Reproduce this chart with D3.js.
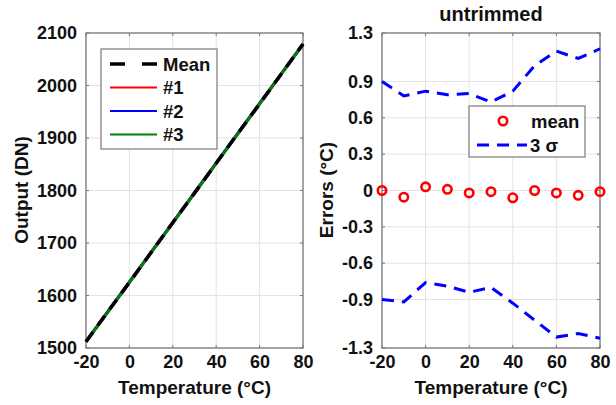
<!DOCTYPE html>
<html>
<head>
<meta charset="utf-8">
<script src="https://cdn.jsdelivr.net/npm/d3@7"></script>
<style>
  body { margin: 0; background: #fff; }
  text { font-family: "Liberation Sans", Arial, sans-serif; font-weight: bold; }
</style>
</head>
<body>
<svg width="616" height="405"></svg>
<script>
const svg = d3.select("svg");

// data
const temps = [-20, -10, 0, 10, 20, 30, 40, 50, 60, 70, 80];
const outMean = [1512, 1569, 1625, 1682, 1739, 1795, 1852, 1909, 1965, 2022, 2079];
const out1 = [1512, 1569, 1625, 1682, 1739, 1795, 1852, 1909, 1965, 2022, 2079];
const out2 = [1512, 1569, 1626, 1682, 1739, 1796, 1852, 1909, 1966, 2022, 2079];
const out3 = [1512, 1568, 1625, 1682, 1738, 1795, 1852, 1908, 1965, 2022, 2078];
const errMean = [0.0, -0.055, 0.03, 0.01, -0.02, -0.01, -0.06, 0.0, -0.02, -0.04, -0.01];
const errUp = [0.9, 0.78, 0.82, 0.79, 0.8, 0.73, 0.82, 1.03, 1.15, 1.09, 1.17];
const errLo = [-0.9, -0.92, -0.76, -0.79, -0.84, -0.8, -0.93, -1.07, -1.21, -1.18, -1.22];
const xTicks = [-20, 0, 20, 40, 60, 80];
const outTicks = [1500, 1600, 1700, 1800, 1900, 2000, 2100];
const errTicks = [-1.3, -0.9, -0.6, -0.3, 0, 0.3, 0.6, 0.9, 1.3];

const plotTop = 33, plotBottom = 348;
const ink = "#111";

function styleTicks(sel) {
  sel.selectAll("text").attr("font-size", 18).attr("fill", ink)
    .style("font-family", "Liberation Sans, Arial, sans-serif").style("font-weight", "bold");
}

function panel(left, right, yDomain, yTicks, fmt) {
  const x = d3.scaleLinear().domain([-20, 80]).range([left, right]);
  const y = d3.scaleLinear().domain(yDomain).range([plotBottom, plotTop]);
  const g = svg.append("g");
  // grid
  g.selectAll(".gx").data(xTicks).enter().append("line")
    .attr("x1", d => x(d)).attr("x2", d => x(d))
    .attr("y1", plotTop).attr("y2", plotBottom)
    .attr("stroke", "#e3e3e3").attr("stroke-width", 1);
  g.selectAll(".gy").data(yTicks).enter().append("line")
    .attr("x1", left).attr("x2", right)
    .attr("y1", d => y(d)).attr("y2", d => y(d))
    .attr("stroke", "#e3e3e3").attr("stroke-width", 1);
  // axes
  const ax = d3.axisBottom(x).tickValues(xTicks).tickSize(0).tickPadding(7)
    .tickFormat(d => String(d));
  g.append("g").attr("transform", `translate(0,${plotBottom})`).call(ax)
    .call(s => s.select(".domain").remove())
    .call(styleTicks);
  const ay = d3.axisLeft(y).tickValues(yTicks).tickSize(0).tickPadding(9).tickFormat(fmt);
  g.append("g").attr("transform", `translate(${left},0)`).call(ay)
    .call(s => s.select(".domain").remove())
    .call(styleTicks);
  // inward ticks
  g.selectAll(".tx").data(xTicks).enter().append("line")
    .attr("x1", d => x(d)).attr("x2", d => x(d))
    .attr("y1", plotBottom).attr("y2", plotBottom - 3).attr("stroke", "#777");
  g.selectAll(".tx2").data(xTicks).enter().append("line")
    .attr("x1", d => x(d)).attr("x2", d => x(d))
    .attr("y1", plotTop).attr("y2", plotTop + 3).attr("stroke", "#777");
  g.selectAll(".ty").data(yTicks).enter().append("line")
    .attr("x1", left).attr("x2", left + 3)
    .attr("y1", d => y(d)).attr("y2", d => y(d)).attr("stroke", "#777");
  g.selectAll(".ty2").data(yTicks).enter().append("line")
    .attr("x1", right).attr("x2", right - 3)
    .attr("y1", d => y(d)).attr("y2", d => y(d)).attr("stroke", "#777");
  g.append("rect").attr("x", left).attr("y", plotTop)
    .attr("width", right - left).attr("height", plotBottom - plotTop)
    .attr("fill", "none").attr("stroke", "#7a7a7a").attr("stroke-width", 1.3);
  // x label
  svg.append("text").attr("x", (left + right) / 2).attr("y", 394)
    .attr("text-anchor", "middle").attr("font-size", 19).attr("fill", ink)
    .text("Temperature (°C)");
  return { x, y, g };
}

// left panel
const L = panel(86, 303, [1500, 2100], outTicks, d => String(d));
const lineL = (vals) => d3.line().x((d, i) => L.x(temps[i])).y(d => L.y(d))(vals);
const series = [
  { name: "#1", vals: out1, color: "#ff0000" },
  { name: "#2", vals: out2, color: "#0000ff" },
  { name: "#3", vals: out3, color: "#008000" }
];
series.forEach(s => {
  svg.append("path").attr("d", lineL(s.vals)).attr("fill", "none")
    .attr("stroke", s.color).attr("stroke-width", 3);
});
svg.append("path").attr("d", lineL(outMean)).attr("fill", "none")
  .attr("stroke", "#000").attr("stroke-width", 3.5).attr("stroke-dasharray", "12,8");

svg.append("text").attr("transform", "translate(28,190) rotate(-90)")
  .attr("text-anchor", "middle").attr("font-size", 19).attr("fill", ink)
  .text("Output (DN)");

// left legend
const lg = svg.append("g");
lg.append("rect").attr("x", 101).attr("y", 49).attr("width", 116).attr("height", 100)
  .attr("fill", "#fff").attr("stroke", "#7a7a7a").attr("stroke-width", 1.2);
const legItems = [{ name: "Mean", color: "#000", dash: "15,17", w: 3.5 }]
  .concat(series.map(s => ({ name: s.name, color: s.color, dash: null, w: 2 })));
legItems.forEach((d, i) => {
  const yy = 64 + i * 23.5;
  lg.append("line").attr("x1", 110).attr("x2", 157).attr("y1", yy).attr("y2", yy)
    .attr("stroke", d.color).attr("stroke-width", d.w)
    .attr("stroke-dasharray", d.dash);
  lg.append("text").attr("x", 163).attr("y", yy + 6.5).attr("font-size", 18.5)
    .attr("fill", ink).text(d.name);
});

// right panel
const R = panel(382, 600, [-1.3, 1.3], errTicks, d => d === 0 ? "0" : d3.format(".1f")(d).replace("\u2212", "-"));
const lineR = (vals) => d3.line().x((d, i) => R.x(temps[i])).y(d => R.y(d))(vals);
[errUp, errLo].forEach(v => {
  svg.append("path").attr("d", lineR(v)).attr("fill", "none")
    .attr("stroke", "#0000ff").attr("stroke-width", 3).attr("stroke-dasharray", "12,8");
});
svg.selectAll(".pt").data(errMean).enter().append("circle")
  .attr("cx", (d, i) => R.x(temps[i])).attr("cy", d => R.y(d)).attr("r", 4.2)
  .attr("fill", "none").attr("stroke", "#ff0000").attr("stroke-width", 2.6);

svg.append("text").attr("transform", "translate(333,190) rotate(-90)")
  .attr("text-anchor", "middle").attr("font-size", 19).attr("fill", ink)
  .text("Errors (°C)");
svg.append("text").attr("x", 491).attr("y", 21).attr("text-anchor", "middle")
  .attr("font-size", 20).attr("fill", ink).text("untrimmed");

// right legend
const rg = svg.append("g");
rg.append("rect").attr("x", 469).attr("y", 106).attr("width", 116).attr("height", 51)
  .attr("fill", "#fff").attr("stroke", "#7a7a7a").attr("stroke-width", 1.2);
rg.append("circle").attr("cx", 503).attr("cy", 121).attr("r", 4.2)
  .attr("fill", "none").attr("stroke", "#ff0000").attr("stroke-width", 2.6);
rg.append("text").attr("x", 531).attr("y", 127.5).attr("font-size", 18.5).attr("fill", ink).text("mean");
rg.append("line").attr("x1", 477).attr("x2", 527).attr("y1", 145).attr("y2", 145)
  .attr("stroke", "#0000ff").attr("stroke-width", 3).attr("stroke-dasharray", "12,8");
rg.append("text").attr("x", 530).attr("y", 151.5).attr("font-size", 18.5).attr("fill", ink).text("3 σ");
</script>
</body>
</html>
